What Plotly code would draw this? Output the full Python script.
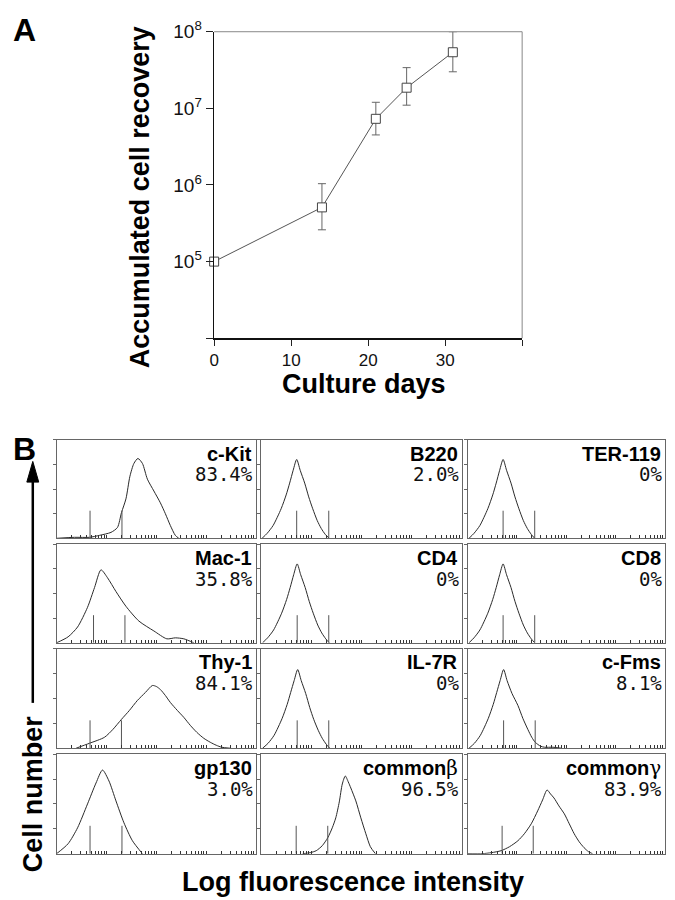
import plotly.graph_objects as go

W, H = 675, 900

# ---------------- Panel A data ----------------
days = [0, 14, 21, 25, 31]
recovery = [1.0e5, 5.1e5, 7.3e6, 1.86e7, 5.4e7]
err_up = [0, 5.3e5, 4.7e6, 1.54e7, 4.6e7]
err_down = [0, 2.5e5, 2.8e6, 7.6e6, 2.4e7]
a_ytick_vals = [1e4, 1e5, 1e6, 1e7, 1e8]
a_ytick_text = ["", "10<sup>5</sup>", "10<sup>6</sup>", "10<sup>7</sup>", "10<sup>8</sup>"]
a_xtick_vals = [0, 10, 20, 30, 40]
a_xtick_text = ["0", "10", "20", "30", ""]

# ---------------- Panel B data (x in decades of log fluorescence, y in % of panel height) ----------------
names = ["c-Kit", "B220", "TER-119", "Mac-1", "CD4", "CD8",
         "Thy-1", "IL-7R", "c-Fms", "gp130", "commonβ", "commonγ"]
percents = ["83.4%", "2.0%", "0%", "35.8%", "0%", "0%",
            "84.1%", "0%", "8.1%", "3.0%", "96.5%", "83.9%"]

ckit_x = [0.0, 0.36, 0.66, 0.86, 1.09, 1.22, 1.30, 1.39, 1.47, 1.55, 1.63, 1.72, 1.82, 1.95, 2.08, 2.18, 2.28, 2.38, 2.45]
ckit_y = [0, 1, 1, 3, 6, 11, 26, 40, 63, 76, 81, 76, 60, 48, 36, 25, 13, 3, 0]
b220_x = [0.02, 0.12, 0.24, 0.40, 0.50, 0.57, 0.64, 0.71, 0.78, 0.87, 0.95, 1.03, 1.12, 1.20, 1.28, 1.36]
b220_y = [0, 5, 13, 30, 44, 56, 69, 80, 69, 56, 42, 30, 18, 10, 4, 0]
ter119_x = [0.03, 0.13, 0.25, 0.41, 0.51, 0.58, 0.65, 0.72, 0.79, 0.88, 0.96, 1.04, 1.13, 1.21, 1.29, 1.36]
ter119_y = [0, 5, 13, 30, 44, 56, 69, 80, 69, 56, 42, 30, 18, 10, 4, 0]
mac1_x = [0.0, 0.23, 0.42, 0.62, 0.76, 0.89, 1.02, 1.19, 1.39, 1.65, 1.95, 2.21, 2.38, 2.55, 2.75]
mac1_y = [0, 6, 16, 36, 56, 74, 66, 52, 37, 22, 12, 4, 5, 4, 0]
cd4_x = [0.03, 0.13, 0.25, 0.41, 0.51, 0.58, 0.65, 0.72, 0.79, 0.88, 0.96, 1.04, 1.13, 1.21, 1.29, 1.36]
cd4_y = [0, 5, 13, 30, 44, 56, 69, 80, 69, 56, 42, 30, 18, 10, 4, 0]
cd8_x = [0.03, 0.13, 0.25, 0.41, 0.51, 0.58, 0.65, 0.72, 0.79, 0.88, 0.96, 1.04, 1.13, 1.21, 1.29, 1.36]
cd8_y = [0, 5, 13, 30, 44, 56, 69, 80, 69, 56, 42, 30, 18, 10, 4, 0]
thy1_x = [0.39, 0.66, 0.96, 1.13, 1.30, 1.46, 1.62, 1.78, 1.92, 2.00, 2.08, 2.18, 2.28, 2.42, 2.55, 2.68, 2.81, 2.95, 3.08, 3.20, 3.31, 3.48]
thy1_y = [0, 5, 11, 19, 29, 38, 48, 56, 63, 62, 59, 53, 46, 38, 31, 23, 16, 10, 6, 3, 1, 0]
il7r_x = [0.03, 0.14, 0.26, 0.42, 0.52, 0.59, 0.66, 0.73, 0.80, 0.89, 0.97, 1.05, 1.14, 1.22, 1.30, 1.37]
il7r_y = [0, 5, 13, 30, 44, 56, 68, 79, 68, 55, 41, 29, 18, 10, 4, 0]
cfms_x = [0.03, 0.14, 0.26, 0.42, 0.52, 0.59, 0.66, 0.73, 0.80, 0.90, 1.02, 1.12, 1.22, 1.30, 1.37, 1.48, 1.56, 1.73, 1.90]
cfms_y = [0, 5, 13, 30, 44, 56, 68, 79, 68, 55, 43, 30, 19, 11, 6, 2, 1, 1, 0]
gp130_x = [0.0, 0.23, 0.42, 0.62, 0.79, 0.92, 1.05, 1.19, 1.35, 1.52, 1.72]
gp130_y = [0, 10, 26, 50, 71, 84, 73, 53, 31, 13, 0]
commonb_x = [0.83, 0.98, 1.10, 1.22, 1.33, 1.42, 1.49, 1.56, 1.62, 1.68, 1.74, 1.79, 1.89, 1.99, 2.09, 2.18, 2.28]
commonb_y = [0, 1, 3, 8, 16, 26, 36, 52, 70, 78, 72, 66, 53, 36, 20, 7, 0]
commong_x = [0.0, 0.30, 0.48, 0.68, 0.85, 1.02, 1.15, 1.29, 1.42, 1.52, 1.61, 1.68, 1.75, 1.85, 1.96, 2.06, 2.16, 2.26, 2.36, 2.45, 2.53]
commong_y = [0, 0, 1, 3, 7, 13, 20, 30, 43, 54, 64, 60, 56, 48, 40, 30, 20, 12, 6, 2, 0]

curves_x = [ckit_x, b220_x, ter119_x, mac1_x, cd4_x, cd8_x, thy1_x, il7r_x, cfms_x, gp130_x, commonb_x, commong_x]
curves_y = [ckit_y, b220_y, ter119_y, mac1_y, cd4_y, cd8_y, thy1_y, il7r_y, cfms_y, gp130_y, commonb_y, commong_y]
gate_low = [0.67, 0.71, 0.72, 0.74, 0.72, 0.72, 0.67, 0.72, 0.73, 0.67, 0.70, 0.70]
gate_high = [1.31, 1.35, 1.36, 1.37, 1.35, 1.36, 1.30, 1.35, 1.37, 1.31, 1.33, 1.33]
gate_height = 28

# ---------------- helpers (layout only) ----------------
def fx(px):
    return px / W

def fy(py):
    return 1 - py / H

FONT = "Liberation Sans, Arial, sans-serif"
fig = go.Figure()
annotations = []
shapes = []

# ---------------- Panel A ----------------
A_L, A_R, A_T, A_B = 210.7, 521.0, 19.0, 330.0
fig.add_trace(go.Scatter(
    x=days, y=recovery, mode="lines+markers",
    line=dict(color="#555", width=1),
    marker=dict(symbol="square", size=9, color="white", line=dict(color="#444", width=1)),
    error_y=dict(type="data", symmetric=False, array=err_up, arrayminus=err_down,
                 color="#666", thickness=1, width=4),
    xaxis="x", yaxis="y", hoverinfo="skip", showlegend=False, cliponaxis=False,
))
layout_axes = {}
layout_axes["xaxis"] = dict(
    domain=[fx(A_L), fx(A_R)], range=[0, 40], anchor="y",
    tickvals=a_xtick_vals, ticktext=a_xtick_text, ticks="outside", ticklen=6,
    tickcolor="#222", showline=True, linecolor="#111", linewidth=1.5,
    showgrid=False, zeroline=False, tickfont=dict(family=FONT, size=17, color="#111"),
)
layout_axes["yaxis"] = dict(
    domain=[fy(A_B), fy(A_T)], type="log", range=[4, 8], anchor="x",
    tickvals=a_ytick_vals, ticktext=a_ytick_text, ticks="outside", ticklen=7,
    tickcolor="#222", showline=True, linecolor="#111", linewidth=1.5,
    showgrid=False, zeroline=False, tickfont=dict(family=FONT, size=19, color="#111"),
)
shapes.append(dict(type="line", xref="paper", yref="paper", x0=fx(A_L), x1=fx(A_R), y0=fy(A_T), y1=fy(A_T),
                   line=dict(color="#888", width=1)))
shapes.append(dict(type="line", xref="paper", yref="paper", x0=fx(A_R), x1=fx(A_R), y0=fy(A_T), y1=fy(A_B),
                   line=dict(color="#888", width=1)))

annotations.append(dict(text="<b>A</b>", x=fx(6), y=fy(17), xref="paper", yref="paper",
                        xanchor="left", yanchor="middle", showarrow=False,
                        font=dict(family=FONT, size=32, color="#000")))
annotations.append(dict(text="<b>Accumulated cell recovery</b>", x=fx(136), y=fy(187), xref="paper", yref="paper",
                        textangle=-90, xanchor="center", yanchor="middle", showarrow=False,
                        font=dict(family=FONT, size=27, color="#000")))
annotations.append(dict(text="<b>Culture days</b>", x=fx(362), y=fy(376), xref="paper", yref="paper",
                        xanchor="center", yanchor="middle", showarrow=False,
                        font=dict(family=FONT, size=27, color="#000")))

# ---------------- Panel B ----------------
col_l = [52, 258, 466]
col_r = [253, 460, 665]
row_t = [433, 539, 645, 752]
row_b = [533, 639, 746, 853]

minor_vals = []
for d in range(4):
    for k in range(1, 10):
        minor_vals.append(k * 10 ** d)
minor_vals.append(10 ** 4)

for i in range(12):
    r, c = divmod(i, 3)
    n = i + 2
    xa, ya = f"x{n}", f"y{n}"
    fig.add_trace(go.Scatter(
        x=[10 ** v for v in curves_x[i]], y=curves_y[i], mode="lines",
        line=dict(color="#2a2a2a", width=1, shape="spline", smoothing=0.7),
        xaxis=xa, yaxis=ya, hoverinfo="skip", showlegend=False,
    ))
    g1, g2 = 10 ** gate_low[i], 10 ** gate_high[i]
    fig.add_trace(go.Scatter(
        x=[g1, g1, None, g2, g2], y=[0, gate_height, None, 0, gate_height], mode="lines",
        line=dict(color="#555", width=1), xaxis=xa, yaxis=ya,
        hoverinfo="skip", showlegend=False,
    ))
    layout_axes[f"xaxis{n}"] = dict(
        domain=[fx(col_l[c]), fx(col_r[c])], type="log", range=[0, 4], anchor=ya,
        tickvals=minor_vals, showticklabels=False, ticks="inside", ticklen=3,
        tickcolor="#333", tickwidth=1, showline=True, linecolor="#666", linewidth=1,
        mirror=True, showgrid=False, zeroline=False,
    )
    layout_axes[f"yaxis{n}"] = dict(
        domain=[fy(row_b[r]), fy(row_t[r])], range=[0, 100], anchor=xa,
        tickvals=[25, 50, 75, 100], showticklabels=False, ticks="outside", ticklen=3,
        tickcolor="#666", showline=True, linecolor="#666", linewidth=1,
        mirror=True, showgrid=False, zeroline=False,
    )
    label = names[i]
    if label.startswith("common"):
        label = "common<span style=\"font-family:'DejaVu Serif';font-weight:normal\">" + label[-1] + "</span>"
    annotations.append(dict(text="<b>" + label + "</b>", x=fx(col_r[c] - 2), y=fy(row_t[r] + 14),
                            xref="paper", yref="paper", xanchor="right", yanchor="middle",
                            showarrow=False, font=dict(family=FONT, size=20, color="#000")))
    annotations.append(dict(text=percents[i], x=fx(col_r[c] - 1), y=fy(row_t[r] + 35),
                            xref="paper", yref="paper", xanchor="right", yanchor="middle",
                            showarrow=False, font=dict(family="DejaVu Sans Mono", size=19, color="#111")))

annotations.append(dict(text="<b>B</b>", x=fx(6), y=fy(442), xref="paper", yref="paper",
                        xanchor="left", yanchor="middle", showarrow=False,
                        font=dict(family=FONT, size=32, color="#000")))
annotations.append(dict(text="<b>Cell number</b>", x=fx(28), y=fy(792), xref="paper", yref="paper",
                        textangle=-90, xanchor="center", yanchor="middle", showarrow=False,
                        font=dict(family=FONT, size=27, color="#000")))
annotations.append(dict(text="<b>Log fluorescence intensity</b>", x=fx(351), y=fy(882), xref="paper", yref="paper",
                        xanchor="center", yanchor="middle", showarrow=False,
                        font=dict(family=FONT, size=27, color="#000")))
# arrow next to "Cell number"
shapes.append(dict(type="line", xref="paper", yref="paper", x0=fx(28), x1=fx(28), y0=fy(700), y1=fy(472),
                   line=dict(color="#000", width=2.5)))
shapes.append(dict(type="path", xref="paper", yref="paper",
                   path=f"M {fx(28)} {fy(455)} L {fx(22)} {fy(476)} L {fx(34)} {fy(476)} Z",
                   fillcolor="#000", line=dict(color="#000", width=1)))

fig.update_layout(
    width=W, height=H, margin=dict(l=0, r=0, t=0, b=0),
    paper_bgcolor="white", plot_bgcolor="white", showlegend=False,
    annotations=annotations, shapes=shapes, **layout_axes,
)
fig.write_html(
    "out.html",
    config={"displayModeBar": False, "staticPlot": True},
    post_script="document.body.style.margin='0';document.body.style.overflow='hidden';",
)
